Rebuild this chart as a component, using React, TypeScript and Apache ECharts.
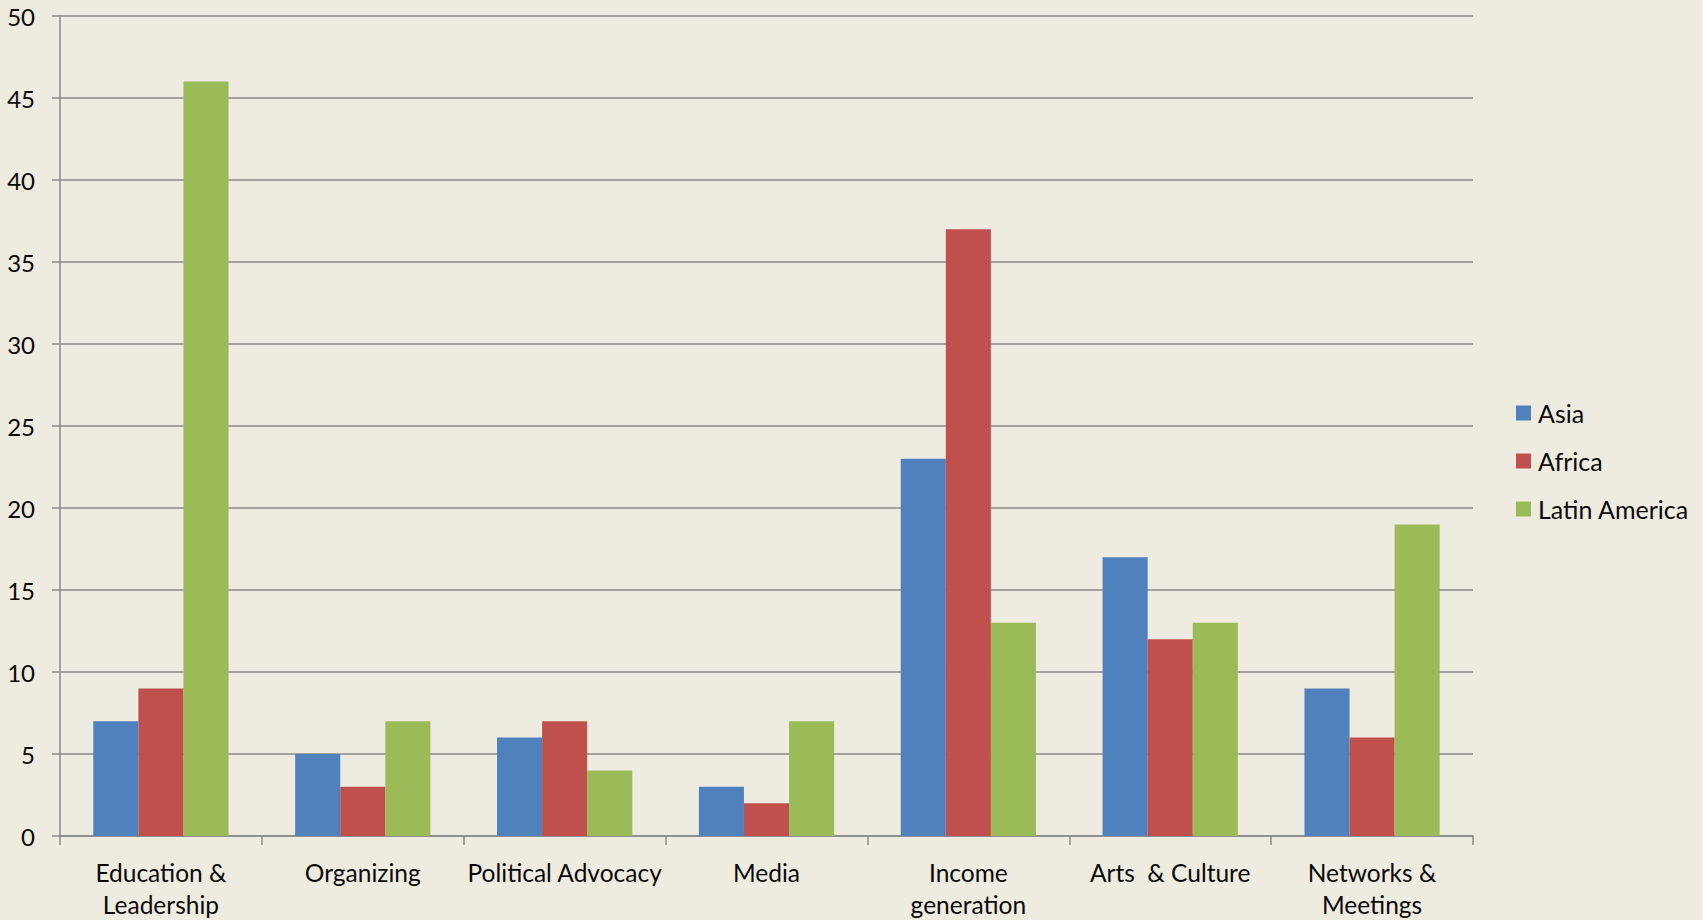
import React, { useEffect, useRef } from "react";
import * as echarts from "echarts";

const categories = [
  "Education &\nLeadership",
  "Organizing",
  "Political Advocacy",
  "Media",
  "Income\ngeneration",
  "Arts  & Culture",
  "Networks &\nMeetings",
];
const asia = [7, 5, 6, 3, 23, 17, 9];
const africa = [9, 3, 7, 2, 37, 12, 6];
const latinAmerica = [46, 7, 4, 7, 13, 13, 19];

const FONT = "Lato, 'Open Sans', sans-serif";

export default function App() {
  const ref = useRef<HTMLDivElement>(null);
  useEffect(() => {
    if (!ref.current) return;
    const chart = echarts.init(ref.current, undefined, { renderer: "svg" });
    const gridColor = "#8a8a8a";
    chart.setOption({
      animation: false,
      backgroundColor: "#EEEBE0",
      textStyle: { fontFamily: FONT },
      grid: { left: 60, top: 16, right: 230, bottom: 83, containLabel: false },
      legend: {
        orient: "vertical",
        left: 1511,
        top: 393,
        itemWidth: 15,
        itemHeight: 15,
        itemGap: 18,
        icon: "rect",
        textStyle: { fontSize: 25, lineHeight: 30, color: "#0a0a0a", fontFamily: FONT, padding: [0, 0, 0, 2] },
        data: ["Asia", "Africa", "Latin America"],
      },
      xAxis: {
        type: "category",
        data: categories,
        axisLine: { lineStyle: { color: gridColor, width: 1.5 } },
        axisTick: { show: true, length: 9, lineStyle: { color: gridColor, width: 1.5 } },
        axisLabel: {
          fontSize: 24.5,
          color: "#0a0a0a",
          margin: 20,
          lineHeight: 32,
          interval: 0,
          fontFamily: FONT,
        },
      },
      yAxis: {
        type: "value",
        min: 0,
        max: 50,
        interval: 5,
        axisLine: { show: true, lineStyle: { color: gridColor, width: 1.5 } },
        axisTick: { show: true, length: 8, lineStyle: { color: gridColor, width: 1.5 } },
        splitLine: { lineStyle: { color: gridColor, width: 1.5 } },
        axisLabel: { fontSize: 24, color: "#0a0a0a", margin: 25, fontFamily: FONT },
      },
      series: [
        {
          name: "Asia",
          type: "bar",
          data: asia,
          barGap: "0%",
          barCategoryGap: "33%",
          itemStyle: { color: "#4F81BD" },
        },
        {
          name: "Africa",
          type: "bar",
          data: africa,
          barGap: "0%",
          barCategoryGap: "33%",
          itemStyle: { color: "#C0504D" },
        },
        {
          name: "Latin America",
          type: "bar",
          data: latinAmerica,
          barGap: "0%",
          barCategoryGap: "33%",
          itemStyle: { color: "#9BBB59" },
        },
      ],
    });
    return () => chart.dispose();
  }, []);
  return (
    <div
      ref={ref}
      style={{ position: "fixed", left: 0, top: 0, width: 1703, height: 920 }}
    />
  );
}
